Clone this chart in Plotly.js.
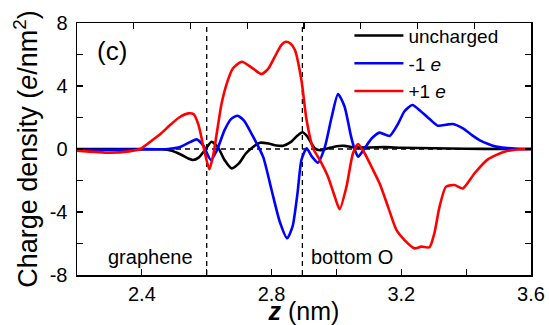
<!DOCTYPE html>
<html>
<head>
<meta charset="utf-8">
<script src="https://cdn.plot.ly/plotly-3.0.1.min.js"></script>
<style>html,body{margin:0;padding:0;background:#fff;}#plot{width:549px;height:325px;}</style>
</head>
<body>
<div id="plot"></div>
<script>
// Uncharged
var zU = [2.2,2.3,2.4,2.46,2.49,2.52,2.545,2.557,2.575,2.595,2.615,2.635,2.655,2.677,2.70,2.72,2.738,2.764,2.79,2.815,2.836,2.86,2.88,2.895,2.91,2.933,2.95,2.975,3.0,3.025,3.05,3.1,3.15,3.2,3.3,3.4,3.5,3.6];
var yU = [0,0,0,-0.02,-0.1,-0.35,-0.62,-0.7,-0.55,-0.05,0.46,0.1,-0.7,-1.23,-0.9,-0.3,0.05,0.4,0.35,0.22,0.21,0.45,0.85,1.06,0.8,0.05,-0.08,0.05,0.18,0.2,0.12,0.1,0.12,0.08,0.05,0.02,0,0];
// -1 e
var zB = [2.2,2.3,2.4,2.48,2.52,2.55,2.569,2.59,2.613,2.631,2.655,2.675,2.695,2.715,2.74,2.774,2.80,2.825,2.848,2.865,2.88,2.892,2.908,2.925,2.943,2.964,2.985,3.005,3.025,3.045,3.056,3.067,3.087,3.11,3.133,3.164,3.19,3.21,3.234,3.26,3.29,3.313,3.34,3.359,3.39,3.42,3.441,3.47,3.492,3.52,3.554,3.6];
var yB = [-0.05,-0.05,-0.03,0,0.15,0.45,0.61,0.2,-0.7,-0.1,1.2,1.9,2.11,1.8,0.9,-0.5,-2.6,-4.6,-5.67,-4.9,-2.8,-0.7,0.04,-0.5,-0.87,0.1,2.0,3.49,2.7,0.8,0,-0.49,0.05,0.7,1.04,0.83,1.6,2.4,2.79,2.4,1.85,1.48,1.55,1.59,1.31,0.85,0.57,0.3,0.15,0.07,0.02,0];
// +1 e
var zR = [2.2,2.3,2.36,2.395,2.426,2.46,2.487,2.515,2.543,2.56,2.575,2.59,2.608,2.62,2.631,2.645,2.662,2.68,2.708,2.74,2.769,2.79,2.81,2.83,2.844,2.858,2.872,2.892,2.908,2.928,2.949,2.974,2.995,3.01,3.031,3.051,3.067,3.087,3.113,3.133,3.159,3.185,3.21,3.241,3.261,3.287,3.302,3.318,3.338,3.364,3.39,3.426,3.467,3.518,3.569,3.6];
var yR = [-0.1,-0.23,-0.15,0,0.46,1.0,1.52,2.0,2.26,2.2,1.5,0.15,-1.29,-0.4,1.0,2.8,4.17,5.1,5.54,5.15,4.76,5.1,5.86,6.6,6.81,6.7,6.29,4.38,1.84,0.04,-0.70,-1.76,-3.03,-3.83,-2.39,-0.27,0.32,-0.27,-1.33,-2.18,-3.66,-5.14,-5.78,-6.31,-6.2,-6.24,-5.35,-3.66,-2.39,-2.29,-2.5,-1.54,-0.66,-0.17,-0.02,0];

var seriesNames = ['uncharged', '-1 <i>e</i>', '+1 <i>e</i>'];
var xTickVals = [2.2,2.4,2.6,2.8,3.0,3.2,3.4,3.6];
var xTickText = [' ', '2.4', ' ', '2.8', ' ', '3.2', ' ', '3.6'];
var yTickVals = [-8,-6,-4,-2,0,2,4,6,8];
var yTickText = ['-8',' ','-4',' ','0',' ','4',' ','8'];
var topTickVals = [0,1,2,3,4,5,6,7,8];
var markerLines = [2.6, 2.895];

var FONT = 'Liberation Sans, Arial, sans-serif';
var lineShape = {shape: 'spline', smoothing: 0.6, width: 2.6};

var traces = [
  {x: zU, y: yU, name: seriesNames[0], mode: 'lines', line: Object.assign({color: '#000000'}, lineShape)},
  {x: zB, y: yB, name: seriesNames[1], mode: 'lines', line: Object.assign({color: '#0000ff'}, lineShape)},
  {x: zR, y: yR, name: seriesNames[2], mode: 'lines', line: Object.assign({color: '#ff0000'}, lineShape)},
  {x: [0], y: [0], xaxis: 'x2', yaxis: 'y', mode: 'markers', marker: {opacity: 0}, showlegend: false, hoverinfo: 'skip'}
];

var shapes = markerLines.map(function (v) {
  return {type: 'line', xref: 'x', yref: 'y', x0: v, x1: v, y0: -8, y1: 8,
          line: {color: '#000', width: 1.3, dash: '5px,4px'}, layer: 'below'};
});
shapes.push({type: 'line', xref: 'x', yref: 'y', x0: 2.2, x1: 3.6, y0: 0, y1: 0,
             line: {color: '#000', width: 1.3, dash: '5px,4px'}, layer: 'below'});

var layout = {
  width: 549, height: 325,
  margin: {l: 77, r: 18, t: 23, b: 50},
  paper_bgcolor: '#fff', plot_bgcolor: '#fff',
  font: {family: FONT, size: 20, color: '#000'},
  showlegend: true,
  legend: {x: 0.6, y: 1.025, xanchor: 'left', yanchor: 'top', bgcolor: 'rgba(0,0,0,0)',
           font: {size: 19}, tracegroupgap: 0, itemwidth: 49},
  xaxis: {
    range: [2.2, 3.6], tickmode: 'array', tickvals: xTickVals, ticktext: xTickText,
    ticks: 'inside', ticklen: 6, tickwidth: 1.2, tickcolor: '#000',
    showline: true, linecolor: '#000', linewidth: 1.5, mirror: false,
    showgrid: false, zeroline: false, tickfont: {size: 20},
    title: {text: '<b><i>z</i></b> (nm)', font: {size: 25}, standoff: 0}
  },
  xaxis2: {
    overlaying: 'x', side: 'top', range: [0, 8], tickmode: 'array', tickvals: topTickVals,
    ticks: 'inside', ticklen: 6, tickwidth: 1.2, tickcolor: '#000', showticklabels: false,
    showline: true, linecolor: '#000', linewidth: 1.5, showgrid: false, zeroline: false
  },
  yaxis: {
    range: [-8, 8], tickmode: 'array', tickvals: yTickVals, ticktext: yTickText,
    ticks: 'inside', ticklen: 6, tickwidth: 1.2, tickcolor: '#000',
    showline: true, linecolor: '#000', linewidth: 1.5, mirror: 'ticks',
    showgrid: false, zeroline: false, tickfont: {size: 20}, ticklabelstandoff: 4,
    title: {text: 'Charge density (<i>e</i>/nm<sup>2</sup>)', font: {size: 27}, standoff: 4}
  },
  shapes: shapes,
  annotations: [
    {xref: 'paper', yref: 'paper', x: 0.04, y: 0.89, xanchor: 'left', yanchor: 'middle', text: '(c)', showarrow: false, font: {size: 26}},
    {xref: 'paper', yref: 'paper', x: 0.063, y: 0.07, xanchor: 'left', yanchor: 'middle', text: 'graphene', showarrow: false, font: {size: 20}},
    {xref: 'paper', yref: 'paper', x: 0.512, y: 0.07, xanchor: 'left', yanchor: 'middle', text: 'bottom O', showarrow: false, font: {size: 20}}
  ]
};

Plotly.newPlot('plot', traces, layout, {displayModeBar: false, staticPlot: true});
</script>
</body>
</html>
